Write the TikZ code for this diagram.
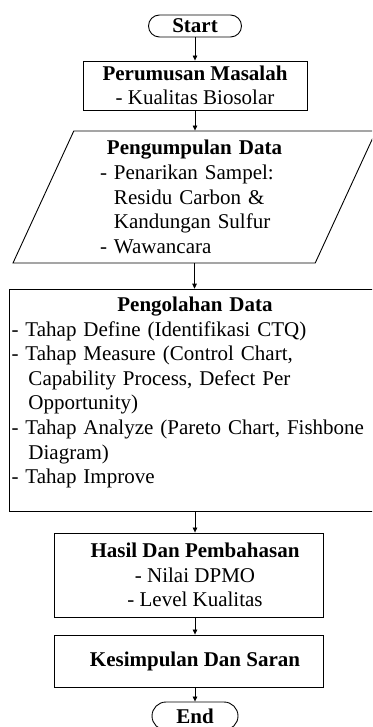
\documentclass[tikz,border=0pt]{standalone}
\usepackage{fontspec}
\setmainfont{Liberation Serif}
\usetikzlibrary{shapes.geometric, shapes.misc, arrows.meta}

\tikzset{
  box/.style={draw, line width=0.9pt, inner sep=2pt, font=\fontsize{21pt}{24.6pt}\selectfont},
  term/.style={box, rounded rectangle, inner sep=0pt, font=\fontsize{21pt}{24.6pt}\selectfont\bfseries},
  arr/.style={line width=0.7pt, -{Triangle[length=5pt,width=4.5pt]}}
}

\begin{document}
\begin{tikzpicture}[x=1pt, y=-1pt]
    \useasboundingbox (0,0) rectangle (372,727);
    \clip (0,0) rectangle (372,727);

    % Start terminator
    \node[term, minimum width=93pt, minimum height=22pt] (start) at (195,26) {Start};

    % Problem statement
    \node[box, minimum width=224pt, minimum height=49pt, align=center] (rumus) at (195,85.5)
        {\textbf{Perumusan Masalah}\\- Kualitas Biosolar};

    % Data collection (parallelogram)
    \node[box, trapezium, trapezium left angle=63, trapezium right angle=117, trapezium stretches body,
          minimum width=363pt, minimum height=132pt, inner sep=3pt, text width=189pt, align=left] (kumpul) at (194.5,197)
        {\makebox[\linewidth]{\textbf{Pengumpulan Data}}\\
         - Penarikan Sampel:\\
         \hphantom{- }Residu Carbon \&\\
         \hphantom{- }Kandungan Sulfur\\
         - Wawancara};

    % Data processing
    \node[box, minimum width=372pt, minimum height=221pt, text width=367pt, inner xsep=2.5pt, inner ysep=7.7pt, align=left] (olah) at (195,400.5)
        {\makebox[\linewidth]{\textbf{Pengolahan Data}}\\
         - Tahap Define (Identifikasi CTQ)\\
         - Tahap Measure (Control Chart,\\
         \hspace*{17pt}Capability Process, Defect Per\\
         \hspace*{17pt}Opportunity)\\
         - Tahap Analyze (Pareto Chart, Fishbone\\
         \hspace*{17pt}Diagram)\\
         - Tahap Improve\rule[-20.5pt]{0pt}{20.5pt}};

    % Results and conclusion
    \node[box, minimum width=269pt, minimum height=84pt, align=center] (hasil) at (188.5,575)
        {\hspace*{13pt}\textbf{Hasil Dan Pembahasan}\\\hspace*{13pt}- Nilai DPMO\\\hspace*{13pt}- Level Kualitas};
    \node[box, minimum width=269pt, minimum height=52pt] (simpul) at (188.5,661)
        {\hspace*{13pt}\textbf{Kesimpulan Dan Saran}};

    % End terminator
    \node[term, minimum width=86pt, minimum height=28pt] (finish) at (195,716) {End};

    % Connectors
    \draw[arr] (start.south) -- (start.south |- rumus.north);
    \draw[arr] (rumus.south) -- (rumus.south |- kumpul.north);
    \draw[arr] (kumpul.south) -- (kumpul.south |- olah.north);
    \draw[arr] (olah.south) -- (olah.south |- hasil.north);
    \draw[arr] (olah.south |- hasil.south) -- (olah.south |- simpul.north);
    \draw[arr] (olah.south |- simpul.south) -- (finish.north);
\end{tikzpicture}
\end{document}
